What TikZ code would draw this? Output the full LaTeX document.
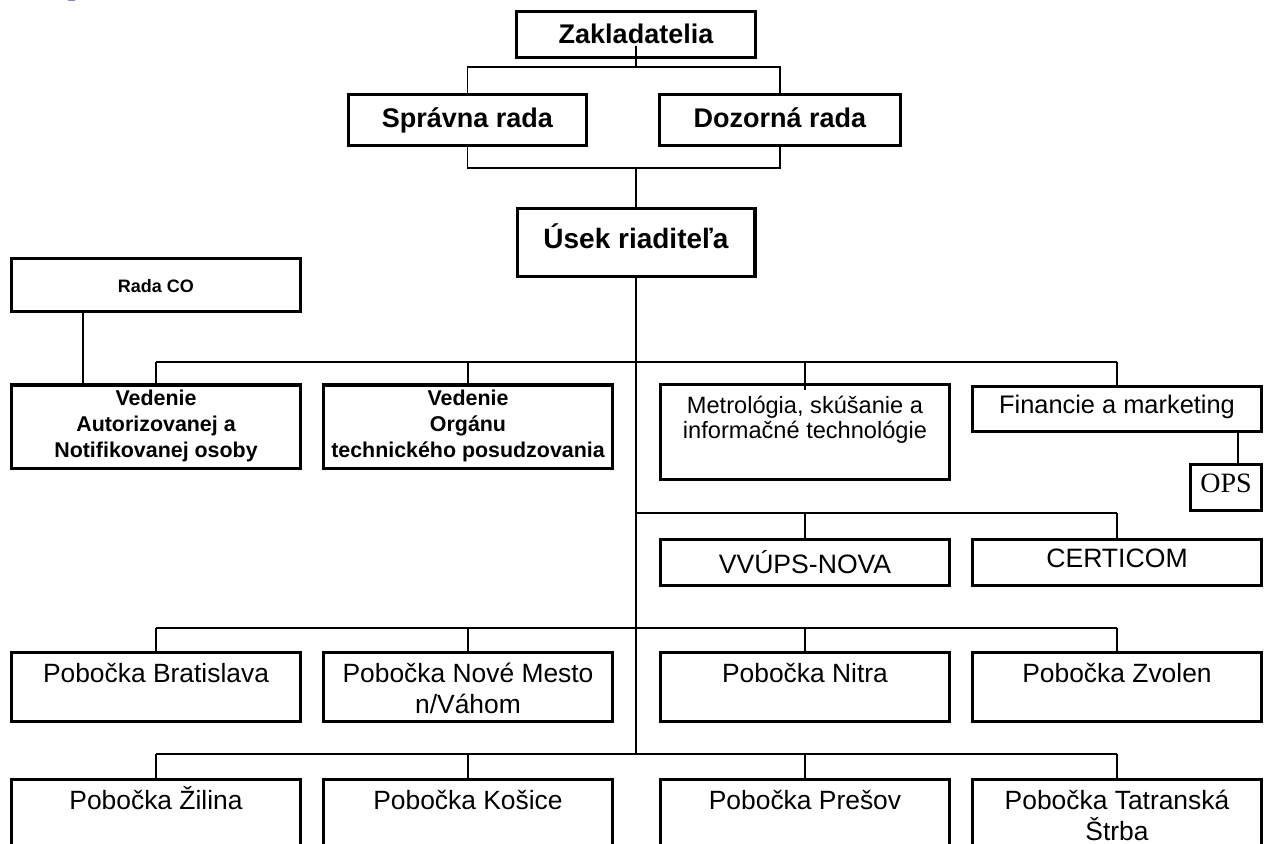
\documentclass[tikz,border=0pt]{standalone}
\usepackage{fontspec}
\setmainfont{Liberation Sans}
\newfontfamily\opsfont{Liberation Serif}
\usetikzlibrary{calc}
\definecolor{fleck}{RGB}{140,130,205}
\newcommand\zac{\rule{0pt}{1em}}
\tikzset{
  jednotka/.style={draw, line width=1.65pt, fill=white, inner sep=0pt, align=center, text height=0.716em, text depth=0pt},
  siroka/.style={minimum width=144.35pt},
  spoj/.style={line width=0.85pt},
  lista/.style={line width=1.4pt},
  popis/.style={anchor=north, inner sep=0pt, align=center, text height=, text depth=},
  tucne/.style={font=\fontsize{13.5pt}{16pt}\selectfont\bfseries},
  bezne/.style={font=\fontsize{13.2pt}{15.5pt}\selectfont},
}
\begin{document}
\begin{tikzpicture}[x=0.5pt,y=-0.5pt]
%Alles in Pixeln des Bildes (1265 x 844), y nach unten
\useasboundingbox (0,0) rectangle (1265,844);
\clip (0,0) rectangle (1265,844);
\fill[fleck] (68,0) rectangle (75,1.5);
%Spaltenmitten
\def\sA{156}
\def\sB{468}
\def\sC{805}
\def\sD{1117}
\def\kmen{636}
%obere Ebene
\node[jednotka, tucne, text height=0.88em, minimum width=119.35pt, minimum height=22.85pt] (zak) at (\kmen,34.5) {Zakladatelia};
\node[jednotka, tucne, minimum width=118.85pt, minimum height=25.35pt] (sprava) at (467.5,120) {Správna rada};
\node[jednotka, tucne, minimum width=120.35pt, minimum height=25.35pt] (dozor) at (780,120) {Dozorná rada};
\node[jednotka, font=\fontsize{14pt}{16pt}\selectfont\bfseries, text height=0.61em, minimum width=118.85pt, minimum height=33.85pt] (usek) at (\kmen,242.5) {Úsek riaditeľa};
\node[jednotka, line width=1.3pt, font=\fontsize{9pt}{11pt}\selectfont\bfseries, minimum width=144.7pt, minimum height=26.7pt] (radaco) at (\sA,285) {Rada CO};
%Vedenie und Abteilungen
\node[jednotka, siroka, minimum height=41.85pt,
  label={[popis, font=\fontsize{10.7pt}{13pt}\selectfont\bfseries, yshift=0pt]north:{\zac Vedenie\\Autorizovanej a\\Notifikovanej osoby}}] (veda) at (\sA,427) {};
\node[jednotka, siroka, minimum height=41.85pt,
  label={[popis, font=\fontsize{10.7pt}{13pt}\selectfont\bfseries, yshift=0pt]north:{\zac Vedenie\\Orgánu\\technického posudzovania}}] (vedo) at (\sB,427) {};
\node[jednotka, siroka, minimum height=47.35pt,
  label={[popis, font=\fontsize{11.8pt}{12.8pt}\selectfont, yshift=-3.2pt]north:{\zac Metrológia, skúšanie a\\informačné technológie}}] (metro) at (\sC,432) {};
\node[jednotka, siroka, minimum height=22.35pt, font=\fontsize{12.7pt}{15pt}\selectfont, text height=0.48em] (fin) at (\sD,409) {Financie a marketing};
\node[jednotka, minimum width=35.35pt, minimum height=22.85pt, font=\opsfont\fontsize{14pt}{16pt}\selectfont, text height=0.48em] (ops) at (1226,487.5) {OPS};
\node[jednotka, siroka, minimum height=22.85pt, font=\fontsize{13.3pt}{15pt}\selectfont, text height=1.15em] (vvups) at (\sC,562.5) {VVÚPS-NOVA};
\node[jednotka, siroka, minimum height=22.85pt, font=\fontsize{13.3pt}{15pt}\selectfont, text height=0.53em] (certi) at (\sD,562.5) {CERTICOM};
%Pobocky
\node[jednotka, siroka, minimum height=34.35pt, label={[popis, bezne, yshift=-2.3pt]north:{\zac Pobočka Bratislava}}] (bra) at (\sA,687) {};
\node[jednotka, siroka, minimum height=34.35pt, label={[popis, bezne, yshift=-2.3pt]north:{\zac Pobočka Nové Mesto\\n/Váhom}}] (nove) at (\sB,687) {};
\node[jednotka, siroka, minimum height=34.35pt, label={[popis, bezne, yshift=-2.3pt]north:{\zac Pobočka Nitra}}] (nitra) at (\sC,687) {};
\node[jednotka, siroka, minimum height=34.35pt, label={[popis, bezne, yshift=-2.3pt]north:{\zac Pobočka Zvolen}}] (zvol) at (\sD,687) {};
\node[jednotka, siroka, minimum height=34.35pt, label={[popis, bezne, yshift=-2.3pt]north:{\zac Pobočka Žilina}}] (zil) at (\sA,814) {};
\node[jednotka, siroka, minimum height=34.35pt, label={[popis, bezne, yshift=-2.3pt]north:{\zac Pobočka Košice}}] (kos) at (\sB,814) {};
\node[jednotka, siroka, minimum height=34.35pt, label={[popis, bezne, yshift=-2.3pt]north:{\zac Pobočka Prešov}}] (pres) at (\sC,814) {};
\node[jednotka, siroka, minimum height=34.35pt, label={[popis, bezne, yshift=-2.3pt]north:{\zac Pobočka Tatranská\\Štrba}}] (tatra) at (\sD,814) {};
%Verbindungen
\coordinate (j1) at (\kmen,67);
\coordinate (j2) at (\kmen,168);
\coordinate (j3) at (\kmen,362);
\coordinate (j4) at (\kmen,513);
\coordinate (j5) at (\kmen,628);
\coordinate (j6) at (\kmen,754);
\draw[spoj] ([yshift=6.5pt]zak.south) -- (j1);
\draw[spoj] (sprava.north) |- (j1) -| (dozor.north);
\draw[spoj] (sprava.south) |- (j2) -| (dozor.south);
\draw[spoj] (j2) -- (usek.north);
\draw[spoj] (usek.south) -- (j6);
\draw[spoj] ([xshift=-36.5pt]radaco.south) -- ([xshift=-36.5pt]veda.north);
\draw[lista] (veda.north |- j3) -- (fin.north |- j3);
\foreach \n in {veda,vedo,fin}{
\draw[spoj] (\n.north) -- (\n.north |- j3);
}
\draw[spoj] ([yshift=-3.5pt]metro.north) -- (metro.north |- j3);
\draw[spoj] ([xshift=6pt]ops.north) -- ([xshift=6pt]ops.north |- fin.south);
\draw[lista] (j4) -- (certi.north |- j4);
\foreach \n in {vvups,certi}{
\draw[spoj] (\n.north) -- (\n.north |- j4);
}
\draw[lista] (bra.north |- j5) -- (zvol.north |- j5);
\foreach \n in {bra,nove,nitra,zvol}{
\draw[spoj] (\n.north) -- (\n.north |- j5);
}
\draw[lista] (zil.north |- j6) -- (tatra.north |- j6);
\foreach \n in {zil,kos,pres,tatra}{
\draw[spoj] (\n.north) -- (\n.north |- j6);
}
\end{tikzpicture}
\end{document}
